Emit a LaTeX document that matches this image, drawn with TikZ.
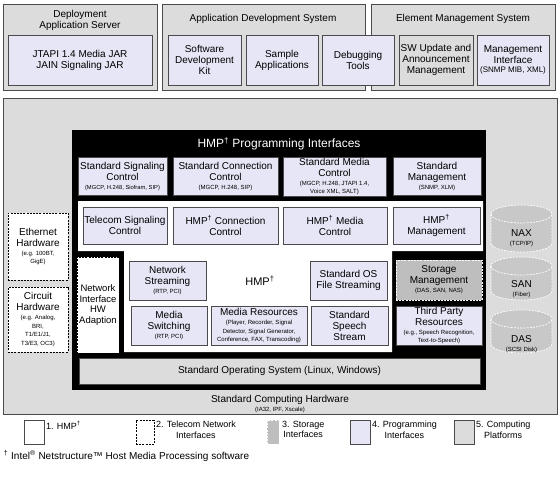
\documentclass[tikz,border=0pt]{standalone}
\usepackage{fontspec}
\setmainfont{Liberation Sans}
\usetikzlibrary{positioning}
\definecolor{Lavender}{HTML}{E6E6F6}
\definecolor{PlatGray}{HTML}{DCDCDC}
\definecolor{StoreGray}{HTML}{BEBEBE}
\definecolor{CylGray}{HTML}{C8C8C8}
\definecolor{EdgeGray}{HTML}{4A4A4A}
\newcommand{\smalltxt}[1]{{\fontsize{6}{7}\selectfont #1}}
\newcommand{\hmpdag}{\textsuperscript{†}}

\begin{document}
\begin{tikzpicture}[x=1pt,y=-1pt,
    every node/.style={inner sep=1pt,outer sep=0pt,align=center,font=\fontsize{10}{11}\selectfont},
    sz/.style 2 args={minimum width=#1,minimum height=#2},
    platbox/.style={fill=PlatGray,draw=EdgeGray,line width=1pt,anchor=north west},
    progbox/.style={fill=Lavender,draw=EdgeGray,line width=0.6pt,anchor=north west},
    graybox/.style={fill=PlatGray,draw=EdgeGray,line width=0.6pt,anchor=north west},
    telbox/.style={fill=white,draw=black,dash pattern=on 2pt off 1.2pt,line width=0.6pt,anchor=north west},
    storbox/.style={fill=StoreGray,draw=white,dash pattern=on 2pt off 1.2pt,line width=0.7pt,anchor=north west},
    cylline/.style={draw=white,dash pattern=on 2pt off 1.2pt,line width=0.7pt},
    legtext/.style={anchor=north west,font=\fontsize{9}{10.5}\selectfont}]
  \useasboundingbox (0,0) rectangle (560,477);

  % upper tier
  \node[platbox,sz={154}{86}] (deploy) at (3,4) {};
  \node (deploytitle) at (80,20) {Deployment\\Application Server};
  \node[progbox,sz={144}{50}] (jtapi) at (8,35) {JTAPI 1.4 Media JAR\\JAIN Signaling JAR};
  \node[platbox,sz={203}{86}] (appdev) at (162,4) {};
  \node (appdevtitle) at (263,19) {Application Development System};
  \node[progbox,sz={73}{50}] (sdk) at (168,35) {Software\\Development\\Kit};
  \node[progbox,sz={72}{50}] (sample) at (246,35) {Sample\\Applications};
  \node[platbox,sz={184}{86}] (elem) at (371,4) {};
  \node (elemtitle) at (463,19) {Element Management System};
  \node[progbox,sz={72}{50}] (debug) at (322,35) {Debugging\\Tools};
  \node[graybox,sz={74}{50}] (swupd) at (399,35) {SW Update and\\Announcement\\Management};
  \node[progbox,sz={72}{50}] (mgmtif) at (477,35)
    {Management\\Interface\\[-1.5pt]{\fontsize{8}{9}\selectfont (SNMP MIB, XML)}};

  % computing platform
  \node[platbox,sz={554}{316}] (platform) at (3,98) {};
  \node[telbox,sz={60}{67}] (ether) at (8,213)
    {Ethernet\\Hardware\\[-2pt]\smalltxt{(e.g. 100BT,}\\[-2.5pt]\smalltxt{GigE)}};
  \node[telbox,sz={60}{65}] (circuit) at (8,287)
    {Circuit\\Hardware\\[-2pt]\smalltxt{(e.g. Analog,}\\[-2.5pt]\smalltxt{BRI,}\\[-2.5pt]\smalltxt{T1/E1/J1,}\\[-2.5pt]\smalltxt{T3/E3, OC3)}};

  % programming interfaces
  \node[fill=black,anchor=north west,sz={414}{260}] (hmpif) at (72,130) {};
  \node[text=white,font=\fontsize{12}{14}\selectfont] (hmpiftitle) at (279,144) {HMP\hmpdag{} Programming Interfaces};
  \node[progbox,sz={89}{38}] (stdsig) at (78,157)
    {Standard Signaling\\Control\\[-2pt]{\fontsize{5.8}{7}\selectfont (MGCP, H.248, Siofram, SIP)}};
  \node[progbox,sz={105}{38}] (stdconn) at (173,157)
    {Standard Connection\\Control\\[-2pt]\smalltxt{(MGCP, H.248, SIP)}};
  \node[progbox,sz={103}{38}] (stdmedia) at (283,157)
    {Standard Media\\Control\\[-2pt]\smalltxt{(MGCP, H.248, JTAPI 1.4,}\\[-2.5pt]\smalltxt{Voice XML, SALT)}};
  \node[progbox,sz={88}{38}] (stdmgmt) at (393,157)
    {Standard\\Management\\[-2pt]\smalltxt{(SNMP, XLM)}};

  % HMP
  \fill[white] (78,201) -- (483,201) -- (483,251) -- (392,251) -- (392,352)
    -- (124,352) -- (124,251) -- (78,251) -- cycle;
  \node[progbox,sz={84}{37}] (telsig) at (83,207) {Telecom Signaling\\Control};
  \node[progbox,sz={105}{37}] (hmpconn) at (173,207) {HMP\hmpdag{} Connection\\Control};
  \node[progbox,sz={104}{37}] (hmpmedia) at (283,207) {HMP\hmpdag{} Media\\Control};
  \node[progbox,sz={87}{37}] (hmpmgmt) at (393,207) {HMP\hmpdag\\Management};
  \node[telbox,sz={42}{96},font=\fontsize{9.5}{10.5}\selectfont] (nic) at (77,257)
    {Network\\Interface\\HW\\Adaption};
  \node[font=\fontsize{11}{12}\selectfont] (hmplabel) at (260,281) {HMP\hmpdag};
  \node[progbox,sz={77}{39}] (netstream) at (129,261) {Network\\Streaming\\[-2pt]\smalltxt{(RTP, PCI)}};
  \node[progbox,sz={77}{39}] (osfile) at (310,261) {Standard OS\\File Streaming};
  \node[progbox,sz={76}{39}] (mediasw) at (131,306) {Media\\Switching\\[-2pt]\smalltxt{(RTP, PCI)}};
  \node[progbox,sz={96}{39}] (mediares) at (211,306)
    {Media Resources\\[-2pt]\smalltxt{(Player, Recorder, Signal}\\[-2.5pt]\smalltxt{Detector, Signal Generator,}\\[-2.5pt]\smalltxt{Conference, FAX, Transcoding)}};
  \node[progbox,sz={77}{39}] (speech) at (311,306) {Standard\\Speech\\Stream};

  % storage and third party
  \node[storbox,sz={86}{40}] (storage) at (396,260) {Storage\\Management\\[-2pt]\smalltxt{(DAS, SAN, NAS)}};
  \node[progbox,sz={86}{39}] (thirdparty) at (396,306)
    {Third Party\\Resources\\[-2pt]\smalltxt{(e.g., Speech Recognition,}\\[-2.5pt]\smalltxt{Text-to-Speech)}};
  \node[graybox,sz={401}{26}] (stdos) at (79,358) {Standard Operating System (Linux, Windows)};
  \node (stdhw) at (280,404) {Standard Computing Hardware\\[-2pt]\smalltxt{(IA32, IPF, Xscale)}};

  % storage cylinders
  \foreach \cname/\ctop/\cbot/\cy/\ctxt/\csub in
      {nax/205/252/238/NAX/{(TCP/IP)},san/257/300/289/SAN/{(Fiber)},das/310/353/344/DAS/{(SCSI Disk)}}{
    \fill[CylGray] (491,\ctop+9) -- (491,\cbot-9)
      arc[start angle=180,end angle=0,x radius=30.5,y radius=9] -- (552,\ctop+9)
      arc[start angle=0,end angle=-180,x radius=30.5,y radius=9] -- cycle;
    \draw[cylline] (491,\ctop+9) -- (491,\cbot-9)
      arc[start angle=180,end angle=0,x radius=30.5,y radius=9] -- (552,\ctop+9)
      arc[start angle=0,end angle=-180,x radius=30.5,y radius=9] -- cycle;
    \draw[cylline] (491,\ctop+9) arc[start angle=180,end angle=0,x radius=30.5,y radius=9];
    \node (\cname) at (521.5,\cy) {\ctxt\\[-2pt]\smalltxt{\csub}};
  }

  % legend
  \node[draw=EdgeGray,fill=white,line width=0.6pt,anchor=north west,sz={20}{24}] (leghmp) at (24,420) {};
  \node[legtext,xshift=1pt] (leghmptxt) at (leghmp.north east) {1. HMP\hmpdag};
  \node[telbox,sz={18}{24}] (legtel) at (136,420) {};
  \node[legtext,xshift=1pt] (legteltxt) at (legtel.north east) {2. Telecom Network\\Interfaces};
  \node[storbox,sz={12}{24}] (legstor) at (267,420) {};
  \node[legtext,xshift=2pt] (legstortxt) at (legstor.north east) {3. Storage\\Interfaces};
  \node[progbox,sz={20}{24}] (legprog) at (350,420) {};
  \node[legtext,xshift=1pt] (legprogtxt) at (legprog.north east) {4. Programming\\Interfaces};
  \node[graybox,sz={20}{24}] (legplat) at (454,420) {};
  \node[legtext,xshift=1pt] (legplattxt) at (legplat.north east) {5. Computing\\Platforms};

  \node[anchor=west,font=\fontsize{10}{11}\selectfont] (footnote) at (3,456)
    {\hmpdag{} Intel\textsuperscript{®} Netstructure™ Host Media Processing software};
\end{tikzpicture}
\end{document}
